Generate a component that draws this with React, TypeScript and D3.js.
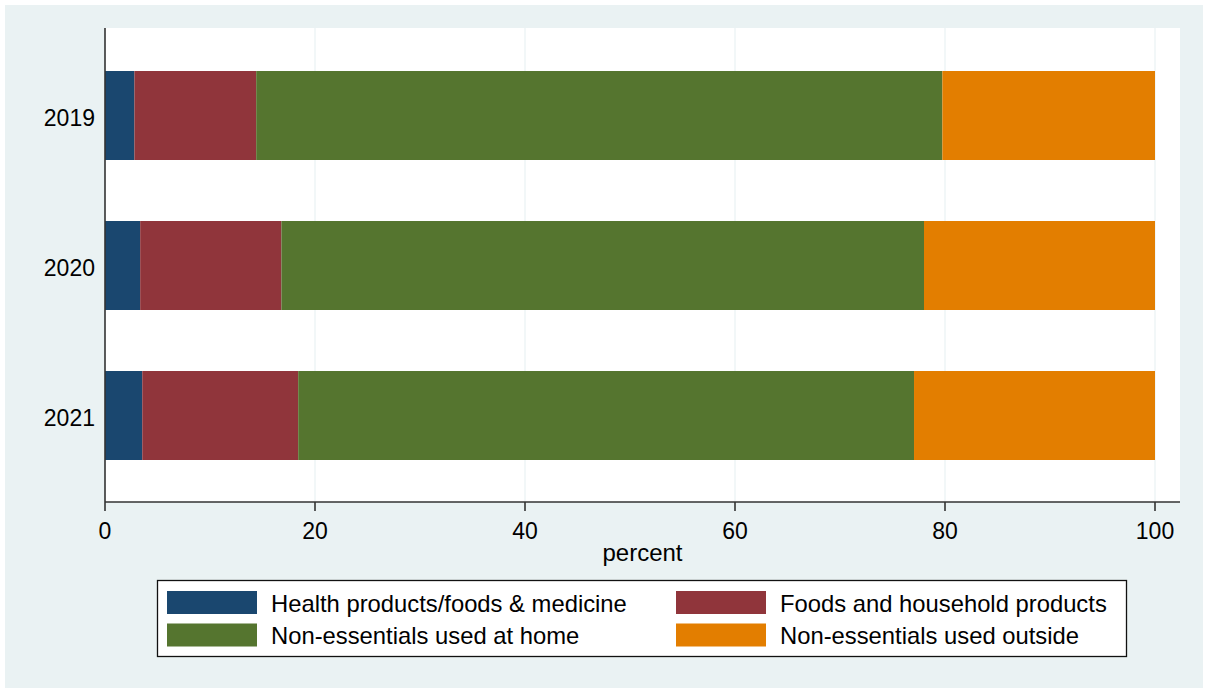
import React from "react";
import * as d3 from "d3";

const years = ["2019", "2020", "2021"];
const seriesNames = [
  "Health products/foods & medicine",
  "Foods and household products",
  "Non-essentials used at home",
  "Non-essentials used outside",
];
const health = [2.8, 3.35, 3.55];
const foods = [11.6, 13.45, 14.85];
const homeNonEss = [65.35, 61.2, 58.65];
const outsideNonEss = [20.25, 22.0, 22.95];
const colors = ["#1a476f", "#90353b", "#55752f", "#e37e00"];
const xTicks = [0, 20, 40, 60, 80, 100];

const W = 1208;
const H = 698;
const FONT = "Arial, 'Liberation Sans', Helvetica, sans-serif";

export default function App() {
  const plotLeft = 105;
  const plotRight = 1180;
  const plotTop = 28;
  const plotBottom = 502;
  const x = d3.scaleLinear().domain([0, 100]).range([105, 1155]);
  const yc = d3.scalePoint().domain(years).range([115.5, 415.5]);
  const barH = 89;

  const data = years.map((yr, i) => ({
    year: yr,
    v: [health[i], foods[i], homeNonEss[i], outsideNonEss[i]],
  }));
  const stack = data.map((d) => {
    let acc = 0;
    return d.v.map((val) => {
      const s = acc;
      acc += val;
      return [s, acc];
    });
  });

  const legendItems = [
    { name: seriesNames[0], color: colors[0], col: 0, row: 0 },
    { name: seriesNames[1], color: colors[1], col: 1, row: 0 },
    { name: seriesNames[2], color: colors[2], col: 0, row: 1 },
    { name: seriesNames[3], color: colors[3], col: 1, row: 1 },
  ];
  const colX = [167, 676];

  return (
    <svg
      width={W}
      height={H}
      style={{ position: "absolute", left: 0, top: 0, background: "#ffffff" }}
      fontFamily={FONT}
    >
      <rect x={5} y={5} width={1198} height={683} fill="#eaf2f3" />
      <rect x={plotLeft} y={plotTop} width={plotRight - plotLeft} height={plotBottom - plotTop} fill="#ffffff" />
      {xTicks.slice(1).map((t) => (
        <line key={"g" + t} x1={x(t)} x2={x(t)} y1={plotTop} y2={plotBottom} stroke="#eaf2f3" strokeWidth={1.2} />
      ))}
      {data.map((d, i) =>
        stack[i].map(([s, e], k) => (
          <rect
            key={d.year + k}
            x={x(s)}
            y={(yc(d.year) as number) - barH / 2}
            width={x(e) - x(s)}
            height={barH}
            fill={colors[k]}
          />
        ))
      )}
      <line x1={plotLeft} x2={plotLeft} y1={plotTop} y2={plotBottom} stroke="#333" strokeWidth={1.6} />
      <line x1={plotLeft} x2={plotRight} y1={plotBottom} y2={plotBottom} stroke="#333" strokeWidth={1.6} />
      {xTicks.map((t) => (
        <g key={"t" + t}>
          <line x1={x(t)} x2={x(t)} y1={plotBottom} y2={plotBottom + 9} stroke="#333" strokeWidth={1.6} />
          <text x={x(t)} y={539} textAnchor="middle" fontSize={23} fill="#000">
            {t}
          </text>
        </g>
      ))}
      {years.map((yr) => (
        <text
          key={"y" + yr}
          x={95}
          y={(yc(yr) as number) + 10.5}
          textAnchor="end"
          fontSize={23}
          fill="#000"
        >
          {yr}
        </text>
      ))}
      <text x={(plotLeft + plotRight) / 2} y={561} textAnchor="middle" fontSize={24} fill="#000">
        percent
      </text>
      <rect x={157.5} y={580.5} width={969} height={76} fill="#ffffff" stroke="#111" strokeWidth={1.3} />
      {legendItems.map((it) => (
        <g key={it.name}>
          <rect x={colX[it.col]} y={591 + it.row * 32.5} width={90} height={23} fill={it.color} />
          <text x={colX[it.col] + 104} y={611.5 + it.row * 32.5} fontSize={23.8} fill="#000">
            {it.name}
          </text>
        </g>
      ))}
    </svg>
  );
}
